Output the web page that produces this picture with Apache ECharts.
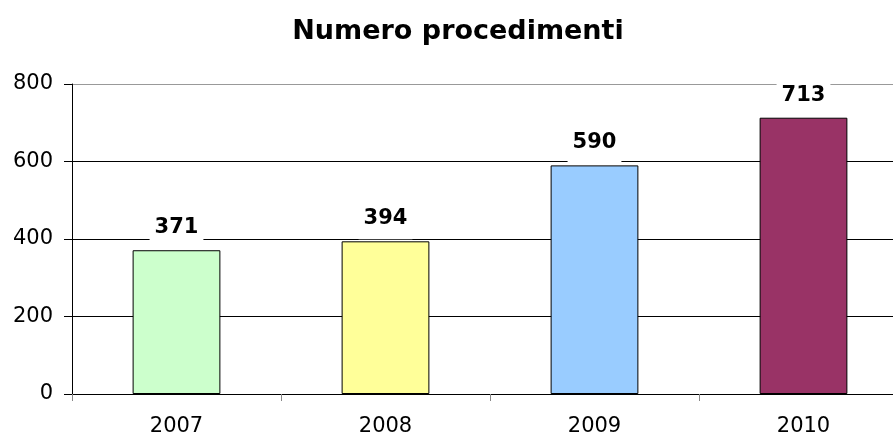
<!DOCTYPE html>
<html>
<head>
<meta charset="utf-8">
<script src="https://cdn.jsdelivr.net/npm/echarts@6/dist/echarts.min.js"></script>
<style>
  html, body { margin: 0; padding: 0; background: #fff; }
  #chart { width: 893px; height: 432px; }
</style>
</head>
<body>
<div id="chart"></div>
<script>
// dati
const anni = ['2007', '2008', '2009', '2010'];
const procedimenti = [371, 394, 590, 713];
const coloriBarre = ['#CCFFCC', '#FFFF99', '#99CCFF', '#993366'];

const FONT = 'DejaVu Sans';

const chart = echarts.init(document.getElementById('chart'));
chart.setOption({
    animation: false,
    backgroundColor: '#fff',
    title: {
        text: 'Numero procedimenti',
        left: 453,
        textAlign: 'center',
        top: 13,
        textStyle: {
            fontFamily: FONT,
            fontSize: 27,
            fontWeight: 'bold',
            color: '#000'
        }
    },
    grid: {
        left: 72,
        top: 84,
        width: 836,
        bottom: 38,
        outerBoundsMode: 'none'
    },
    xAxis: {
        type: 'category',
        data: anni,
        axisLine: { lineStyle: { color: '#000', width: 1 } },
        axisTick: { show: true, length: 7, lineStyle: { color: '#888' } },
        axisLabel: {
            fontFamily: FONT,
            fontSize: 21,
            color: '#000',
            margin: 22
        }
    },
    yAxis: {
        type: 'value',
        min: 0,
        max: 800,
        interval: 200,
        axisLine: { show: true, lineStyle: { color: '#000' } },
        axisTick: { show: true, length: 8, lineStyle: { color: '#000' } },
        axisLabel: {
            fontFamily: FONT,
            fontSize: 21,
            color: '#000',
            margin: 19
        },
        splitLine: {
            lineStyle: {
                // la linea superiore (800) è grigia
                color: ['#000', '#000', '#000', '#000', '#999'],
                width: 1
            }
        }
    },
    series: [{
        type: 'bar',
        barWidth: '42%',
        data: procedimenti.map((v, i) => ({
            value: v,
            itemStyle: { color: coloriBarre[i] }
        })),
        itemStyle: { borderColor: '#000', borderWidth: 1 },
        label: {
            show: true,
            position: 'top',
            distance: 2,
            fontFamily: FONT,
            fontSize: 21,
            fontWeight: 'bold',
            color: '#000',
            backgroundColor: '#fff',
            padding: [4, 5, 10, 5]
        }
    }]
});
</script>
</body>
</html>
